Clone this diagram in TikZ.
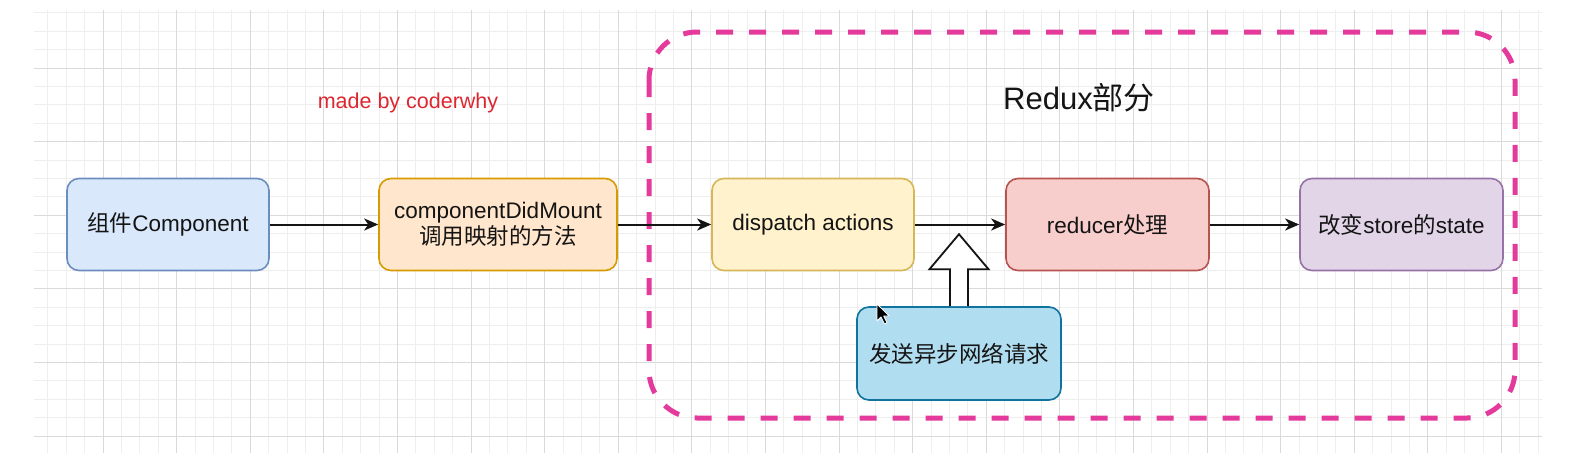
\documentclass[tikz,border=0pt]{standalone}
\usepackage{fontspec}
\setmainfont{Liberation Sans}
\newfontfamily\cjk{Noto Sans CJK SC}
\usetikzlibrary{arrows.meta,calc}
\definecolor{gridminor}{RGB}{238,238,238}
\definecolor{gridmajor}{RGB}{218,218,218}
\definecolor{txt}{RGB}{20,20,20}
\definecolor{pinkdash}{RGB}{228,58,156}
\definecolor{madered}{RGB}{222,38,48}
\definecolor{bluefill}{HTML}{DAE8FC}\definecolor{bluedraw}{HTML}{6C8EBF}
\definecolor{orangefill}{HTML}{FFE6CC}\definecolor{orangedraw}{HTML}{D79B00}
\definecolor{yellowfill}{HTML}{FFF2CC}\definecolor{yellowdraw}{HTML}{D6B656}
\definecolor{redfill}{HTML}{F8CECC}\definecolor{reddraw}{HTML}{B85450}
\definecolor{purplefill}{HTML}{E1D5E7}\definecolor{purpledraw}{HTML}{9673A6}
\definecolor{cyanfill}{HTML}{B1DDF0}\definecolor{cyandraw}{HTML}{10739E}
\tikzset{
  boxstyle/.style={rounded corners=12pt, line width=1.6pt, minimum width=202pt,
    minimum height=92pt, align=center, font=\fontsize{22.5}{26}\selectfont, text=txt, inner sep=0pt},
  flow/.style={line width=2pt, draw=txt, -{Stealth[length=14pt,width=12pt,inset=4pt]}},
}
\begin{document}
\begin{tikzpicture}[x=1pt,y=-1pt]
\useasboundingbox (0,0) rectangle (1574,463);
\fill[white] (0,0) rectangle (1574,463);
% grid
\begin{scope}
\clip (34,10) rectangle (1542,453);
\foreach \i in {0,...,83} {
  \draw[gridminor, line width=0.8pt] ({29.4+18.4*\i},10) -- ({29.4+18.4*\i},453);
}
\foreach \j in {0,...,25} {
  \draw[gridminor, line width=0.8pt] (34,{12.8+18.4*\j}) -- (1542,{12.8+18.4*\j});
}
\foreach \i in {0,...,21} {
  \draw[gridmajor, line width=1pt] ({29.4+73.6*\i},10) -- ({29.4+73.6*\i},453);
}
\foreach \j in {0,...,6} {
  \draw[gridmajor, line width=1pt] (34,{68+73.6*\j}) -- (1542,{68+73.6*\j});
}
\end{scope}
% redux region
\draw[pinkdash, line width=5pt, dash pattern=on 17pt off 16pt, rounded corners=48pt]
  (649,32) rectangle (1515,418);
\node[text=txt, font=\fontsize{31}{36}\selectfont] (title) at (1079,98) {Redux{\cjk 部分}};
\node[text=madered, font=\fontsize{21.5}{25}\selectfont] (made) at (408,103) {made by coderwhy};
% boxes
\node[boxstyle, fill=bluefill, draw=bluedraw] (b1) at (168,224.5) {{\cjk 组件}Component};
\node[boxstyle, fill=orangefill, draw=orangedraw, minimum width=238pt] (b2) at (498,224.5)
  {componentDidMount\\{\cjk 调用映射的方法}};
\node[boxstyle, fill=yellowfill, draw=yellowdraw] (b3) at (813,224.5) {dispatch actions};
\node[boxstyle, fill=redfill, draw=reddraw, minimum width=203pt] (b4) at (1107.5,224.5) {reducer{\cjk 处理}};
\node[boxstyle, fill=purplefill, draw=purpledraw, minimum width=203pt] (b5) at (1401.5,224.5) {{\cjk 改变}store{\cjk 的}state};
\node[boxstyle, fill=cyanfill, draw=cyandraw, minimum width=204pt, minimum height=93pt] (b6) at (959,353.5) {{\cjk 发送异步网络请求}};
% connectors
\draw[flow] (b1.east) -- (b2.west);
\draw[flow] (b2.east) -- (b3.west);
\draw[flow] (b3.east) -- (b4.west);
\draw[flow] (b4.east) -- (b5.west);
% hollow block arrow
\draw[line width=1.8pt, draw=txt, fill=white, line join=miter]
  ($(b6.north)+(-9,0)$) -- ($(b6.north)+(-9,-37)$) -- ($(b6.north)+(-29.5,-37)$)
  -- ($(b6.north)+(0,-72)$) -- ($(b6.north)+(29.5,-37)$) -- ($(b6.north)+(9,-37)$)
  -- ($(b6.north)+(9,0)$);
% mouse cursor
\coordinate (cur) at (877,304);
\draw[fill=black, draw=white, line width=0.8pt, line join=round]
  (cur) -- ++(0,17) -- ++(4,-4) -- ++(3.5,7) -- ++(2.5,-1.2) -- ++(-3.4,-6.8) -- ++(5.6,0) -- cycle;
\end{tikzpicture}
\end{document}
